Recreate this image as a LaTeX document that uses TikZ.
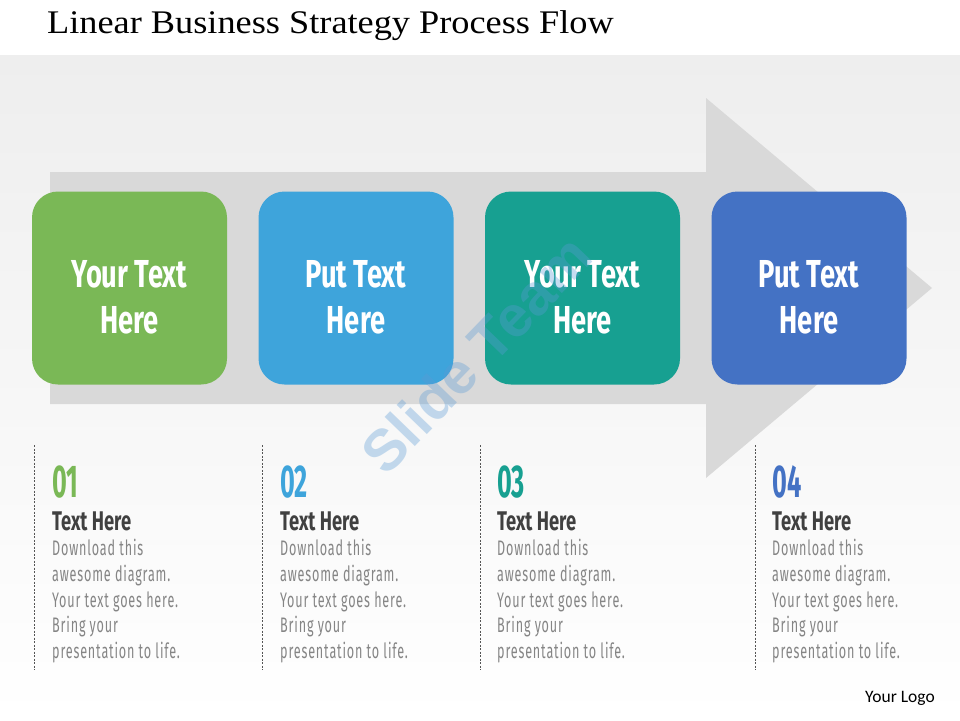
\documentclass[tikz,border=0pt]{standalone}
\usepackage{fontspec}
\setmainfont{Liberation Serif}
\newfontfamily\titlefont[FakeStretch=1.1]{Liberation Serif}
\newfontfamily\agbox[FakeStretch=0.7]{Fira Sans}
\newfontfamily\agnum[FakeStretch=0.55]{Fira Sans}
\newfontfamily\aghead[FakeStretch=0.68]{Fira Sans}
\newfontfamily\agbody[FakeStretch=0.6,LetterSpace=4]{Fira Sans}
\newfontfamily\logofont{Carlito}
\newfontfamily\wmfont{Liberation Sans}
\definecolor{cgreen}{HTML}{7AB856}
\definecolor{cblue}{HTML}{3EA4DB}
\definecolor{cteal}{HTML}{17A091}
\definecolor{cdblue}{HTML}{4472C4}
\definecolor{arrowgray}{HTML}{D9D9D9}
\definecolor{bgtop}{HTML}{EEEEEE}
\definecolor{headgray}{HTML}{404040}
\definecolor{bodygray}{HTML}{858585}
\definecolor{dashgray}{HTML}{555555}
\definecolor{wmblue}{HTML}{5B9BD5}
\begin{document}
\begin{tikzpicture}[x=1pt,y=-1pt,
  procbox/.style={rectangle, rounded corners=26pt, minimum width=195pt, minimum height=193pt, inner sep=0pt, draw=none},
  boxtext/.style={anchor=base, text=white, inner sep=0pt, font=\agbox\bfseries\fontsize{39}{46}\selectfont},
  numtext/.style={anchor=base west, inner sep=0pt, font=\agnum\bfseries\fontsize{46}{46}\selectfont},
  headtext/.style={anchor=base west, inner sep=0pt, text=headgray, font=\aghead\bfseries\fontsize{27}{27}\selectfont},
  bodytext/.style={anchor=base west, inner sep=0pt, text=bodygray, font=\agbody\fontsize{21}{21}\selectfont},
  dline/.style={draw=dashgray, line width=0.8pt, dash pattern=on 2pt off 1.5pt}]
\useasboundingbox (0,0) rectangle (960,720);
\fill[white] (0,0) rectangle (960,720);
\shade[top color=bgtop, bottom color=white] (0,55) rectangle (960,720);
% title
\node[anchor=base west, inner sep=0pt, font=\titlefont\fontsize{33}{33}\selectfont] (title) at (47,33) {Linear Business Strategy Process Flow};
% arrow
\fill[arrowgray] (50,172) -- (706,172) -- (706,98) -- (932,288) -- (706,478) -- (706,404) -- (50,404) -- cycle;
% boxes
\node[procbox, fill=cgreen] (b1) at (129.5,288) {};
\node[procbox, fill=cblue] (b2) at (356,288) {};
\node[procbox, fill=cteal] (b3) at (582.5,288) {};
\node[procbox, fill=cdblue] (b4) at (809,288) {};
\node[boxtext] (t1a) at (129.5,287) {Your Text};
\node[boxtext] (t1b) at (129.5,333) {Here};
\node[boxtext] (t2a) at (356,287) {Put Text};
\node[boxtext] (t2b) at (356,333) {Here};
\node[boxtext] (t3a) at (582.5,287) {Your Text};
\node[boxtext] (t3b) at (582.5,333) {Here};
\node[boxtext] (t4a) at (809,287) {Put Text};
\node[boxtext] (t4b) at (809,333) {Here};
% dashed lines
\foreach \i/\x in {1/34,2/262,3/480,4/755}{
  \coordinate (d\i a) at (\x,445);
  \coordinate (d\i b) at (\x,670);
  \draw[dline] (d\i a) -- (d\i b);
}
% columns
\foreach \i/\x/\c/\n in {1/52/cgreen/01,2/280/cblue/02,3/497/cteal/03,4/772/cdblue/04}{
  \node[numtext, text=\c] (n\i) at (\x,497) {\n};
  \node[headtext] (h\i) at (\x,530.5) {Text Here};
  \node[bodytext] (l\i a) at (\x,555.5) {Download this};
  \node[bodytext] (l\i b) at (\x,581.5) {awesome diagram.};
  \node[bodytext] (l\i c) at (\x,607) {Your text goes here.};
  \node[bodytext] (l\i d) at (\x,632.5) {Bring your};
  \node[bodytext] (l\i e) at (\x,658) {presentation to life.};
}
% logo
\node[anchor=base east, inner sep=0pt, font=\logofont\fontsize{17.5}{17.5}\selectfont] (logo) at (935,702) {Your Logo};
% watermark
\node[rotate=46, text=wmblue, opacity=0.35, inner sep=0pt, font=\wmfont\bfseries\fontsize{58}{58}\selectfont] (wm) at (476,354) {Slide Team};
\end{tikzpicture}
\end{document}
